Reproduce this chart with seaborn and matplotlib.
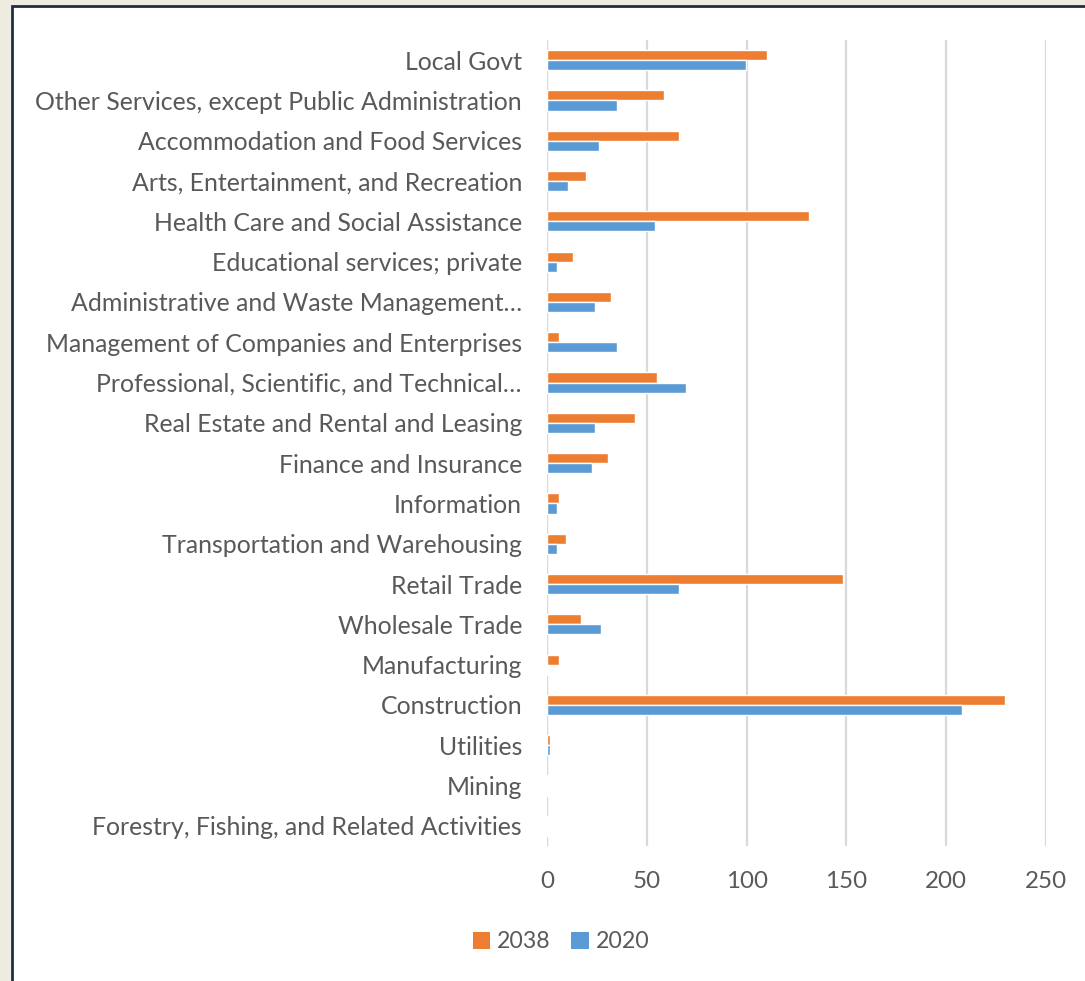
import matplotlib
matplotlib.use("Agg")
import matplotlib.pyplot as plt
from matplotlib.patches import Rectangle, Patch
import seaborn as sns
import pandas as pd

industries = [
    "Local Govt",
    "Other Services, except Public Administration",
    "Accommodation and Food Services",
    "Arts, Entertainment, and Recreation",
    "Health Care and Social Assistance",
    "Educational services; private",
    "Administrative and Waste Management…",
    "Management of Companies and Enterprises",
    "Professional, Scientific, and Technical…",
    "Real Estate and Rental and Leasing",
    "Finance and Insurance",
    "Information",
    "Transportation and Warehousing",
    "Retail Trade",
    "Wholesale Trade",
    "Manufacturing",
    "Construction",
    "Utilities",
    "Mining",
    "Forestry, Fishing, and Related Activities",
]
values_2038 = [110.4, 58.6, 66, 19.6, 131.3, 13.2, 32.3, 6, 55, 44.2,
               30.5, 6, 9.5, 148.3, 16.9, 6, 229.6, 1.5, 0.4, 0.4]
values_2020 = [99.7, 35, 26, 10.5, 54, 4.9, 24.1, 35, 69.6, 24.1,
               22.4, 4.9, 4.9, 66, 26.9, 0.5, 207.7, 1.5, 0.4, 0.4]
series = ["2038", "2020"]
x_ticks = [0, 50, 100, 150, 200, 250]

df = pd.DataFrame({
    "industry": industries * 2,
    "value": values_2038 + values_2020,
    "year": [series[0]] * len(industries) + [series[1]] * len(industries),
})

sns.set_theme(style="white")
plt.rcParams["font.family"] = ["Lato", "DejaVu Sans"]

text_color = "#595959"
palette = {"2038": "#ED7D31", "2020": "#5B9BD5"}

fig = plt.figure(figsize=(10.85, 9.81), dpi=100)
fig.patch.set_facecolor("#EEEBE0")

# white chart panel with dark frame, drawn beneath the axes
panel = Rectangle((12 / 1085, -0.01), 1.02, 1 - 6 / 981 + 0.01,
                  transform=fig.transFigure, facecolor="white",
                  edgecolor="#1F2D4A", linewidth=2, zorder=-10)
fig.patches.append(panel)

ax = fig.add_axes([547 / 1085, 1 - 846 / 981, (1046 - 547) / 1085, (846 - 40) / 981])
ax.set_facecolor("none")

sns.barplot(data=df, y="industry", x="value", hue="year", order=industries,
            hue_order=series, palette=palette, orient="h", width=0.5,
            saturation=1, legend=False, ax=ax, zorder=3)

ax.set_xlim(0, 250)
ax.set_xticks(x_ticks)
ax.set_xticklabels([str(t) for t in x_ticks])
ax.xaxis.grid(True, color="#D9D9D9", linewidth=1.6, zorder=0)
ax.set_axisbelow(True)
ax.axvline(0, color="#D9D9D9", linewidth=1.6, zorder=1)
for s in ax.spines.values():
    s.set_visible(False)
ax.set_xlabel("")
ax.set_ylabel("")
ax.tick_params(axis="x", length=0, pad=18, labelsize=17.4, labelcolor=text_color)
ax.tick_params(axis="y", length=0, pad=18, labelsize=17.9, labelcolor=text_color)

handles = [Patch(facecolor=palette[s], edgecolor="none", label=s) for s in series]
fig.legend(handles=handles, loc="center", bbox_to_anchor=(561 / 1085, 1 - 942 / 981),
           ncol=2, frameon=False, handlelength=0.75, handleheight=0.75,
           handletextpad=0.3, columnspacing=0.9,
           prop={"size": 16.7}, labelcolor=text_color)

fig.savefig("out.png", dpi=100, facecolor=fig.get_facecolor())
